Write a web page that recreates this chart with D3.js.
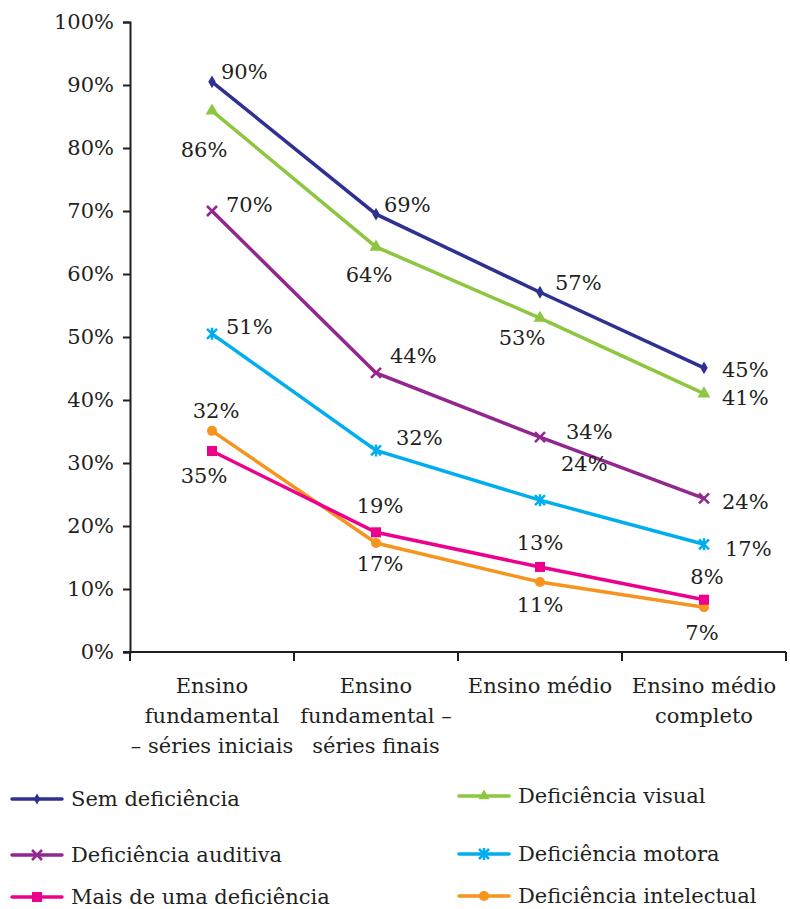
<!DOCTYPE html>
<html>
<head>
<meta charset="utf-8">
<script src="https://cdn.jsdelivr.net/npm/d3@7"></script>
<style>
  body { margin: 0; background: #fff; }
  text { font-family: "DejaVu Serif", serif; fill: #231f20; }
</style>
</head>
<body>
<div id="chart"></div>
<script>
'use strict'

// data
const categories = [
  ['Ensino', 'fundamental', '– séries iniciais'],
  ['Ensino', 'fundamental –', 'séries finais'],
  ['Ensino médio'],
  ['Ensino médio', 'completo']
]
const yTicks = [0, 0.1, 0.2, 0.3, 0.4, 0.5, 0.6, 0.7, 0.8, 0.9, 1]

const semDeficiencia = [0.905, 0.695, 0.571, 0.451]
const defVisual = [0.859, 0.643, 0.530, 0.410]
const defAuditiva = [0.700, 0.443, 0.341, 0.244]
const defMotora = [0.505, 0.320, 0.241, 0.171]
const maisDeUma = [0.319, 0.190, 0.135, 0.083]
const defIntelectual = [0.351, 0.173, 0.111, 0.071]

// printed labels (as they appear in the source)
const lblSem = ['90%', '69%', '57%', '45%']
const lblVisual = ['86%', '64%', '53%', '41%']
const lblAuditiva = ['70%', '44%', '34%', '24%']
const lblMotora = ['51%', '32%', '24%', '17%']
const lblMais = ['35%', '19%', '13%', '8%']
const lblIntelectual = ['32%', '17%', '11%', '7%']

const series = [
  { name: 'Sem deficiência', values: semDeficiencia, labels: lblSem, color: '#2e3192', marker: 'diamond' },
  { name: 'Deficiência visual', values: defVisual, labels: lblVisual, color: '#8dc63f', marker: 'triangle' },
  { name: 'Deficiência auditiva', values: defAuditiva, labels: lblAuditiva, color: '#92278f', marker: 'x' },
  { name: 'Deficiência motora', values: defMotora, labels: lblMotora, color: '#00aeef', marker: 'star' },
  { name: 'Mais de uma deficiência', values: maisDeUma, labels: lblMais, color: '#ec008c', marker: 'square' },
  { name: 'Deficiência intelectual', values: defIntelectual, labels: lblIntelectual, color: '#f7941d', marker: 'circle' }
]

// label placement per series: [dx, dy, anchor]
const placement = [
  [[9, -10, 'start'], [8, -10, 'start'], [15, -10, 'start'], [18, 2, 'start']],
  [[-8, 39, 'middle'], [-7, 28, 'middle'], [-18, 20, 'middle'], [18, 4, 'start']],
  [[14, -6, 'start'], [14, -17, 'start'], [26, -6, 'start'], [18, 3, 'start']],
  [[14, -7, 'start'], [20, -13, 'start'], [21, -37, 'start'], [21, 4, 'start']],
  [[-8, 25, 'middle'], [4, -27, 'middle'], [0, -24, 'middle'], [3, -23, 'middle']],
  [[4, -20, 'middle'], [4, 21, 'middle'], [0, 23, 'middle'], [-2, 25, 'middle']]
]

const fs = 21
const width = 790, height = 909
const svg = d3.select('#chart').append('svg')
  .attr('width', width)
  .attr('height', height)

const x = d3.scaleBand()
  .domain(d3.range(categories.length))
  .range([130, 786])
  .padding(0)
const y = d3.scaleLinear().domain([0, 1]).range([652, 22])
const cx = i => x(i) + x.bandwidth() / 2

// y axis
const yAxis = svg.append('g')
  .attr('transform', 'translate(130,0)')
  .call(d3.axisLeft(y).tickValues(yTicks).tickFormat(d3.format('.0%')).tickSize(7).tickPadding(9))
yAxis.select('.domain').attr('stroke', '#231f20').attr('stroke-width', 2)
yAxis.selectAll('.tick line').attr('stroke', '#231f20').attr('stroke-width', 2)
yAxis.selectAll('.tick text').attr('font-size', fs).attr('font-family', '"DejaVu Serif", serif').attr('fill', '#231f20')

// x axis
const xAxis = svg.append('g').attr('transform', 'translate(0,652)')
xAxis.append('line')
  .attr('x1', 123).attr('x2', 786)
  .attr('stroke', '#231f20').attr('stroke-width', 2)
xAxis.selectAll('.xt')
  .data(d3.range(categories.length + 1))
  .join('line')
  .attr('x1', i => i < categories.length ? x(i) : x(i - 1) + x.bandwidth())
  .attr('x2', i => i < categories.length ? x(i) : x(i - 1) + x.bandwidth())
  .attr('y1', 0).attr('y2', 9)
  .attr('stroke', '#231f20').attr('stroke-width', 2)

const catLabel = svg.append('g').selectAll('text')
  .data(categories)
  .join('text')
  .attr('text-anchor', 'middle')
  .attr('font-size', fs)
catLabel.selectAll('tspan')
  .data(d => d)
  .join('tspan')
  .attr('x', function () { return cx(categories.indexOf(d3.select(this.parentNode).datum())) })
  .attr('y', (d, j) => 693 + j * 30)
  .text(d => d)

// markers
function drawMarker(g, type, color, s) {
  if (type === 'diamond') {
    g.append('path').attr('d', d3.symbol(d3.symbolDiamond, s * 4)).attr('fill', color)
  } else if (type === 'triangle') {
    g.append('path').attr('d', d3.symbol(d3.symbolTriangle, s * 6)).attr('fill', color)
  } else if (type === 'square') {
    g.append('rect').attr('x', -5).attr('y', -5).attr('width', 10).attr('height', 10).attr('fill', color)
  } else if (type === 'circle') {
    g.append('circle').attr('r', 5).attr('fill', color)
  } else if (type === 'x') {
    g.append('path').attr('d', 'M-5,-5L5,5M-5,5L5,-5').attr('stroke', color).attr('stroke-width', 2.5)
  } else if (type === 'star') {
    g.append('path').attr('d', 'M-5,-5L5,5M-5,5L5,-5M0,-6L0,6').attr('stroke', color).attr('stroke-width', 2.5)
  }
}

const line = d3.line().x((d, i) => cx(i)).y(d => y(d))

// draw in reverse so the top series sits on top
series.slice().reverse().forEach(s => {
  svg.append('path')
    .datum(s.values)
    .attr('fill', 'none')
    .attr('stroke', s.color)
    .attr('stroke-width', 3.5)
    .attr('d', line)
  s.values.forEach((v, i) => {
    const g = svg.append('g').attr('transform', `translate(${cx(i)},${y(v)})`)
    drawMarker(g, s.marker, s.color, 12)
  })
})

// value labels
series.forEach((s, k) => {
  svg.append('g').selectAll('text')
    .data(s.values)
    .join('text')
    .attr('x', (d, i) => cx(i) + placement[k][i][0])
    .attr('y', (d, i) => y(d) + placement[k][i][1])
    .attr('dy', '0.35em')
    .attr('text-anchor', (d, i) => placement[k][i][2])
    .attr('font-size', fs)
    .text((d, i) => s.labels[i])
})

// legend
const legendPos = [[12, 799], [459, 796], [12, 855], [459, 854], [12, 897], [459, 896]]
const legend = svg.append('g').selectAll('g')
  .data(series)
  .join('g')
  .attr('transform', (d, i) => `translate(${legendPos[i][0]},${legendPos[i][1]})`)
legend.append('line')
  .attr('x1', 0).attr('x2', 50)
  .attr('stroke', d => d.color).attr('stroke-width', 3.5)
  .attr('stroke-linecap', 'round')
legend.each(function (d) {
  const g = d3.select(this).append('g').attr('transform', 'translate(25,0)')
  drawMarker(g, d.marker, d.color, 9)
})
legend.append('text')
  .attr('x', 59)
  .attr('dy', '0.35em')
  .attr('font-size', fs)
  .text(d => d.name)
</script>
</body>
</html>
